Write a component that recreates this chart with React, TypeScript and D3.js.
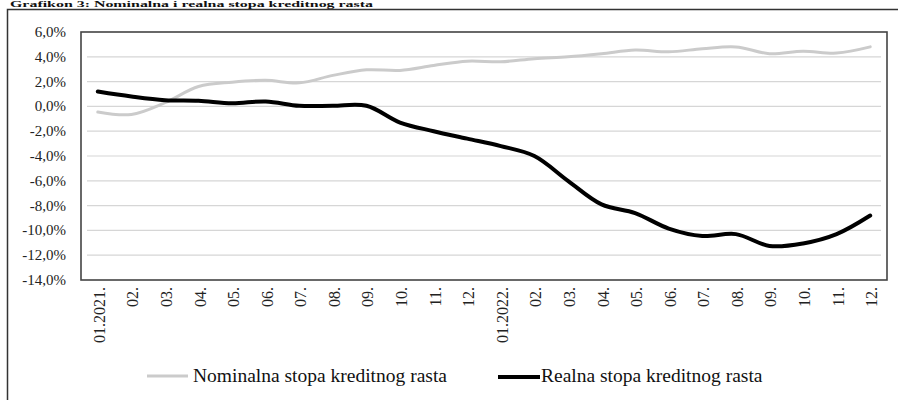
import React from "react";
import * as d3 from "d3";

// Monthly credit growth rates, Jan 2021 – Dec 2022 (%)
const months: string[] = [
  "01.2021.", "02.", "03.", "04.", "05.", "06.", "07.", "08.", "09.", "10.", "11.", "12.",
  "01.2022.", "02.", "03.", "04.", "05.", "06.", "07.", "08.", "09.", "10.", "11.", "12.",
];

const nominalRate: number[] = [
  -0.45, -0.65, 0.3, 1.6, 1.95, 2.1, 1.9, 2.5, 2.95, 2.9, 3.3, 3.65,
  3.6, 3.85, 4.0, 4.25, 4.55, 4.4, 4.65, 4.8, 4.25, 4.45, 4.3, 4.8,
];

const realRate: number[] = [
  1.2, 0.8, 0.5, 0.45, 0.25, 0.4, 0.05, 0.05, 0.05, -1.3, -2.0, -2.6,
  -3.2, -4.0, -6.0, -7.9, -8.6, -9.85, -10.45, -10.3, -11.25, -11.05, -10.3, -8.8,
];

const yTicks: number[] = [6, 4, 2, 0, -2, -4, -6, -8, -10, -12, -14];

const seriesNames: string[] = [
  "Nominalna stopa kreditnog rasta",
  "Realna stopa kreditnog rasta",
];

const title = "Grafikon 3: Nominalna i realna stopa kreditnog rasta";

const W = 898;
const H = 400;
const plot = { left: 81, right: 887, top: 32, bottom: 280 };

const locale = d3.formatLocale({
  decimal: ",",
  thousands: ".",
  grouping: [3],
  currency: ["", ""],
  minus: "-",
});
const fmt = locale.format(".1f");

const serif = "Liberation Serif, DejaVu Serif, Times New Roman, serif";

export default function App() {
  const x = d3
    .scalePoint<number>()
    .domain(months.map((_, i) => i))
    .range([plot.left, plot.right])
    .padding(0.5);
  const y = d3.scaleLinear().domain([-14, 6]).range([plot.bottom, plot.top]);

  const line = d3
    .line<number>()
    .x((_, i) => x(i) as number)
    .y((d) => y(d))
    .curve(d3.curveCatmullRom.alpha(0.5));

  return (
    <svg
      width={W}
      height={H}
      style={{ position: "fixed", left: 0, top: 0, display: "block", background: "#fff", fontFamily: serif }}
    >
      {/* heading above the frame */}
      <text
        x={10}
        y={7}
        style={{ fontFamily: serif }}
        fontWeight="bold"
        fontSize={9}
        fill="#111"
        textLength={363}
        lengthAdjust="spacingAndGlyphs"
      >
        {title}
      </text>

      {/* outer frame */}
      <rect x={7.5} y={9.5} width={W + 20} height={H + 20} fill="none" stroke="#333" strokeWidth={1.5} />

      {/* horizontal grid */}
      {yTicks
        .filter((t) => t !== 6 && t !== -14)
        .map((t) => (
          <line
            key={`g${t}`}
            x1={plot.left + 6}
            x2={plot.right - 6}
            y1={y(t)}
            y2={y(t)}
            stroke="#d6d6d6"
            strokeWidth={1.2}
          />
        ))}

      {/* plot border */}
      <rect
        x={plot.left}
        y={plot.top}
        width={plot.right - plot.left}
        height={plot.bottom - plot.top}
        fill="none"
        stroke="#444"
        strokeWidth={1.6}
      />

      {/* y tick labels */}
      {yTicks.map((t) => (
        <text
          key={`y${t}`}
          x={66}
          y={y(t) + 5}
          textAnchor="end"
          style={{ fontFamily: serif }}
          fontSize={15}
          fill="#222"
        >
          {fmt(t)}%
        </text>
      ))}

      {/* x tick labels, vertical */}
      {months.map((m, i) => {
        const cx = (x(i) as number) + 7;
        const ty = plot.bottom + 7;
        return (
          <text
            key={`x${i}`}
            transform={`translate(${cx},${ty}) rotate(-90)`}
            textAnchor="end"
            style={{ fontFamily: serif }}
            fontSize={16}
            fill="#222"
          >
            {m}
          </text>
        );
      })}

      {/* series */}
      <path d={line(nominalRate) ?? ""} fill="none" stroke="#cbcbcb" strokeWidth={3} strokeLinejoin="round" strokeLinecap="round" />
      <path d={line(realRate) ?? ""} fill="none" stroke="#000" strokeWidth={4} strokeLinejoin="round" strokeLinecap="round" />

      {/* legend */}
      <g style={{ fontFamily: serif }} fontSize={19.5} fill="#111">
        <line x1={147} x2={188} y1={376} y2={376} stroke="#cbcbcb" strokeWidth={3} />
        <text x={193} y={382}>{seriesNames[0]}</text>
        <line x1={498} x2={540} y1={377} y2={377} stroke="#000" strokeWidth={4} />
        <text x={541} y={382}>{seriesNames[1]}</text>
      </g>
    </svg>
  );
}
